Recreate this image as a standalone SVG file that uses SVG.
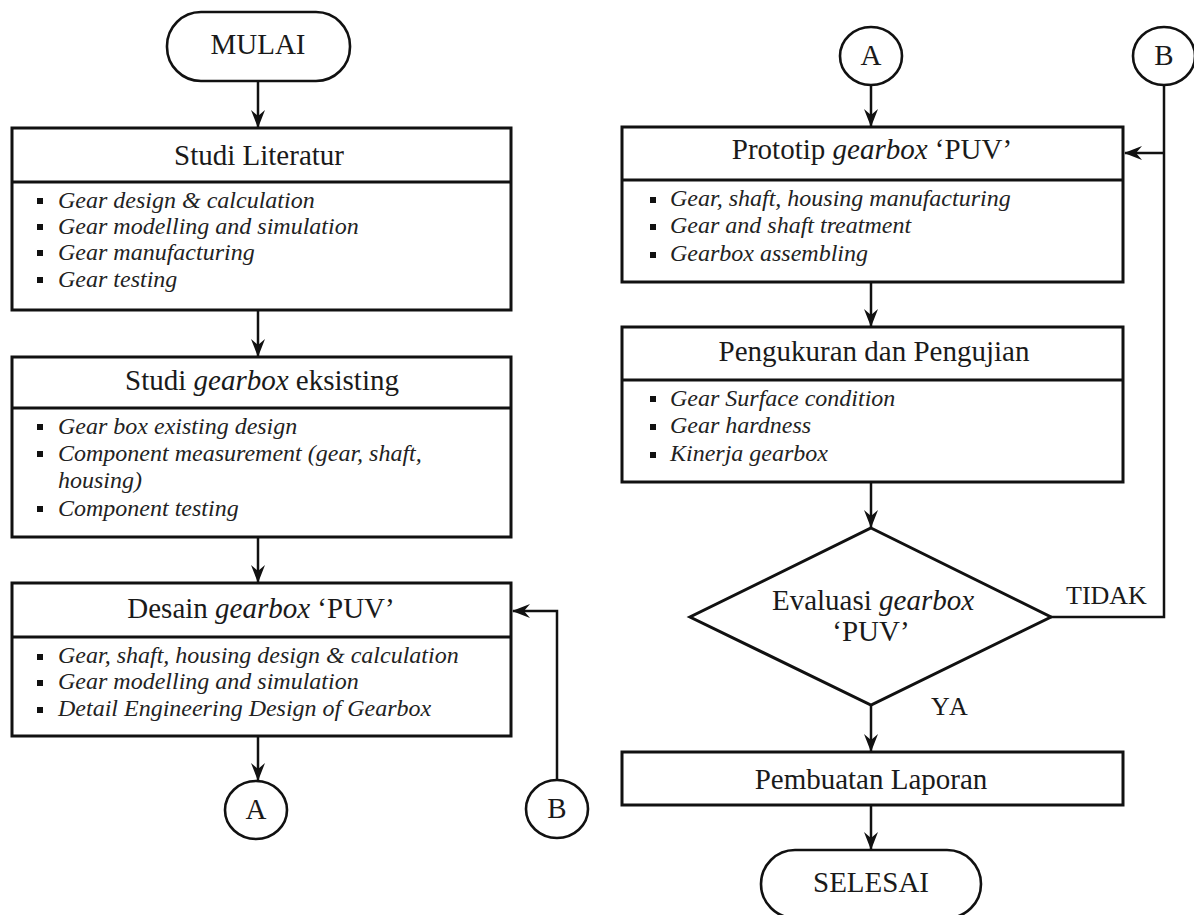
<svg xmlns="http://www.w3.org/2000/svg" width="1194" height="915" viewBox="0 0 1194 915">
<style>
.box{fill:#fff;stroke:#111;stroke-width:3}
.div{stroke:#111;stroke-width:3}
.term{fill:#fff;stroke:#111;stroke-width:2.6}
.conn{fill:none;stroke:#111;stroke-width:2.5}
.hd{font-family:"Liberation Serif","Times New Roman",serif;font-size:29px;fill:#1a1a1a;text-anchor:middle}
.lb{font-family:"Liberation Serif","Times New Roman",serif;font-size:26px;fill:#1a1a1a}
.it{font-style:italic}
.bl{font-family:"Liberation Serif","Times New Roman",serif;font-size:24px;font-style:italic;fill:#222}
.sq{fill:#111}
</style>
<defs>
<marker id="ah" viewBox="0 0 18 14" refX="17" refY="7" markerWidth="18" markerHeight="14" markerUnits="userSpaceOnUse" orient="auto">
<path d="M0,0 L18,7 L0,14 L6,7 z" fill="#111"/>
</marker>
</defs>
<rect width="1194" height="915" fill="#fff"/>

<g id="connectors">
<line class="conn" x1="258" y1="81" x2="258" y2="127" marker-end="url(#ah)"/>
<line class="conn" x1="258" y1="310" x2="258" y2="356" marker-end="url(#ah)"/>
<line class="conn" x1="258" y1="537" x2="258" y2="582" marker-end="url(#ah)"/>
<line class="conn" x1="258" y1="736" x2="258" y2="780" marker-end="url(#ah)"/>
<polyline class="conn" points="557,780 557,611 513,611" marker-end="url(#ah)"/>
<line class="conn" x1="871" y1="85" x2="871" y2="126" marker-end="url(#ah)"/>
<line class="conn" x1="871" y1="282" x2="871" y2="326" marker-end="url(#ah)"/>
<line class="conn" x1="871" y1="482" x2="871" y2="527" marker-end="url(#ah)"/>
<line class="conn" x1="871" y1="705" x2="871" y2="751" marker-end="url(#ah)"/>
<line class="conn" x1="871" y1="805" x2="871" y2="849" marker-end="url(#ah)"/>
<polyline class="conn" points="1051,617 1164,617 1164,85"/>
<line class="conn" x1="1164" y1="153" x2="1125" y2="153" marker-end="url(#ah)"/>
<text class="lb" x="1066" y="604">TIDAK</text>
<text class="lb" x="931" y="715" letter-spacing="2">YA</text>
</g>

<g id="mulai">
<rect class="term" x="167" y="12" width="183" height="69" rx="34"/>
<text class="hd" x="258" y="54" font-size="27">MULAI</text>
</g>

<g id="studi-literatur">
<rect class="box" x="12" y="128" width="499" height="182"/>
<line class="div" x1="12" y1="182" x2="511" y2="182"/>
<text class="hd" x="259" y="165">Studi Literatur</text>
<rect class="sq" x="37" y="198" width="6" height="6"/>
<rect class="sq" x="37" y="224" width="6" height="6"/>
<rect class="sq" x="37" y="250" width="6" height="6"/>
<rect class="sq" x="37" y="277" width="6" height="6"/>
<text class="bl" x="58" y="208">Gear design &amp; calculation</text>
<text class="bl" x="58" y="234">Gear modelling and simulation</text>
<text class="bl" x="58" y="260">Gear manufacturing</text>
<text class="bl" x="58" y="287">Gear testing</text>
</g>

<g id="studi-gearbox">
<rect class="box" x="12" y="357" width="499" height="180"/>
<line class="div" x1="12" y1="408" x2="511" y2="408"/>
<text class="hd" x="262" y="390">Studi <tspan class="it">gearbox</tspan> eksisting</text>
<rect class="sq" x="37" y="424" width="6" height="6"/>
<rect class="sq" x="37" y="451" width="6" height="6"/>
<rect class="sq" x="37" y="506" width="6" height="6"/>
<text class="bl" x="58" y="434">Gear box existing design</text>
<text class="bl" x="58" y="461">Component measurement (gear, shaft,</text>
<text class="bl" x="58" y="488">housing)</text>
<text class="bl" x="58" y="516">Component testing</text>
</g>

<g id="desain">
<rect class="box" x="12" y="583" width="499" height="153"/>
<line class="div" x1="12" y1="637" x2="511" y2="637"/>
<text class="hd" x="261" y="618">Desain <tspan class="it">gearbox</tspan> ‘PUV’</text>
<rect class="sq" x="37" y="654" width="6" height="6"/>
<rect class="sq" x="37" y="680" width="6" height="6"/>
<rect class="sq" x="37" y="707" width="6" height="6"/>
<text class="bl" x="58" y="663">Gear, shaft, housing design &amp; calculation</text>
<text class="bl" x="58" y="689">Gear modelling and simulation</text>
<text class="bl" x="58" y="716">Detail Engineering Design of Gearbox</text>
</g>

<g id="conn-a-left">
<ellipse class="term" cx="256" cy="810" rx="31" ry="29"/>
<text class="hd" x="256" y="819" font-size="26">A</text>
</g>

<g id="conn-b-left">
<ellipse class="term" cx="557" cy="809" rx="31" ry="29"/>
<text class="hd" x="557" y="818" font-size="26">B</text>
</g>

<g id="conn-a-right">
<ellipse class="term" cx="871" cy="56" rx="31" ry="29"/>
<text class="hd" x="871" y="65" font-size="26">A</text>
</g>

<g id="conn-b-right">
<ellipse class="term" cx="1164" cy="56" rx="31" ry="29"/>
<text class="hd" x="1164" y="65" font-size="26">B</text>
</g>

<g id="prototip">
<rect class="box" x="622" y="127" width="501" height="155"/>
<line class="div" x1="622" y1="180" x2="1123" y2="180"/>
<text class="hd" x="872" y="159">Prototip <tspan class="it">gearbox</tspan> ‘PUV’</text>
<rect class="sq" x="650" y="197" width="6" height="6"/>
<rect class="sq" x="650" y="224" width="6" height="6"/>
<rect class="sq" x="650" y="252" width="6" height="6"/>
<text class="bl" x="670" y="206">Gear, shaft, housing manufacturing</text>
<text class="bl" x="670" y="233">Gear and shaft treatment</text>
<text class="bl" x="670" y="261">Gearbox assembling</text>
</g>

<g id="pengukuran">
<rect class="box" x="622" y="327" width="501" height="155"/>
<line class="div" x1="622" y1="380" x2="1123" y2="380"/>
<text class="hd" x="874" y="361">Pengukuran dan Pengujian</text>
<rect class="sq" x="650" y="396" width="6" height="6"/>
<rect class="sq" x="650" y="424" width="6" height="6"/>
<rect class="sq" x="650" y="452" width="6" height="6"/>
<text class="bl" x="670" y="406">Gear Surface condition</text>
<text class="bl" x="670" y="433">Gear hardness</text>
<text class="bl" x="670" y="461">Kinerja gearbox</text>
</g>

<g id="evaluasi">
<polygon points="871,528 1051,617 871,705 690,617" fill="#fff" stroke="#111" stroke-width="3"/>
<text class="hd" x="873" y="610">Evaluasi <tspan class="it">gearbox</tspan></text>
<text class="hd" x="871" y="641">‘PUV’</text>
</g>

<g id="pembuatan">
<rect class="box" x="622" y="752" width="501" height="53"/>
<text class="hd" x="871" y="789">Pembuatan Laporan</text>
</g>

<g id="selesai">
<rect class="term" x="761" y="850" width="220" height="68" rx="34"/>
<text class="hd" x="871" y="892" font-size="27">SELESAI</text>
</g>
</svg>
